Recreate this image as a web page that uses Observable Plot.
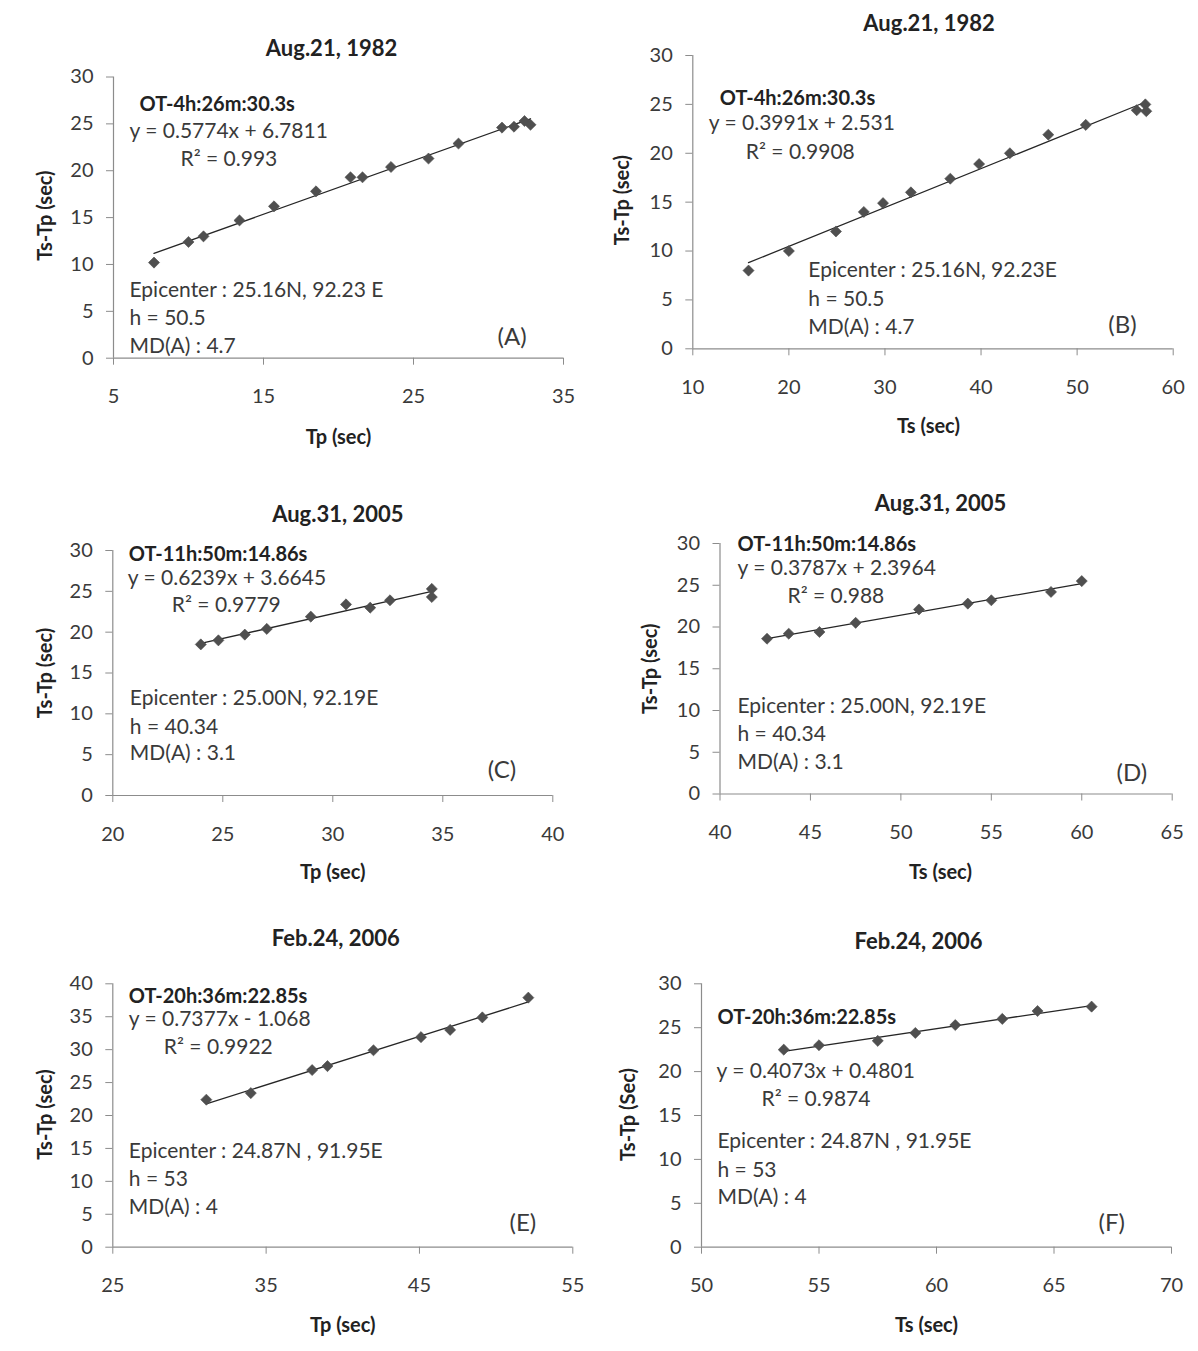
<!DOCTYPE html>
<html>
<head>
<meta charset="utf-8">
<script src="https://cdn.jsdelivr.net/npm/d3@7"></script>
<script src="https://cdn.jsdelivr.net/npm/@observablehq/plot@0.6"></script>
<style>
  body { margin: 0; background: #fff; }
  #wrap { position: relative; width: 1198px; height: 1351px; background: #fff; overflow: hidden; }
  #wrap svg { position: absolute; }
</style>
</head>
<body>
<div id="wrap"></div>
<script>
// ---------- data ----------
// Panel A: Aug.21, 1982, Tp vs Ts-Tp
const aTp = [7.7, 10.0, 11.0, 13.4, 15.7, 18.5, 20.8, 21.6, 23.5, 26.0, 28.0, 30.9, 31.7, 32.4, 32.8];
const aDt = [10.2, 12.4, 13.0, 14.7, 16.2, 17.8, 19.3, 19.3, 20.4, 21.3, 22.9, 24.6, 24.7, 25.3, 24.9];
// Panel B: Aug.21, 1982, Ts vs Ts-Tp
const bTs = [15.8, 20.0, 24.9, 27.8, 29.8, 32.7, 36.8, 39.8, 43.0, 47.0, 50.9, 56.2, 57.1, 57.2];
const bDt = [8.0, 10.0, 12.0, 14.0, 14.9, 16.0, 17.4, 18.9, 20.0, 21.9, 22.9, 24.4, 25.0, 24.3];
// Panel C: Aug.31, 2005, Tp vs Ts-Tp
const cTp = [24.0, 24.8, 26.0, 27.0, 29.0, 30.6, 31.7, 32.6, 34.5, 34.5];
const cDt = [18.5, 19.0, 19.7, 20.4, 21.9, 23.4, 23.0, 23.9, 25.3, 24.3];
// Panel D: Aug.31, 2005, Ts vs Ts-Tp
const dTs = [42.6, 43.8, 45.5, 47.5, 51.0, 53.7, 55.0, 58.3, 60.0];
const dDt = [18.6, 19.2, 19.4, 20.5, 22.1, 22.8, 23.2, 24.2, 25.5];
// Panel E: Feb.24, 2006, Tp vs Ts-Tp
const eTp = [31.1, 34.0, 38.0, 39.0, 42.0, 45.1, 47.0, 49.1, 52.1];
const eDt = [22.4, 23.4, 26.9, 27.5, 29.9, 31.9, 33.0, 34.9, 37.9];
// Panel F: Feb.24, 2006, Ts vs Ts-Tp
const fTs = [53.5, 55.0, 57.5, 59.1, 60.8, 62.8, 64.3, 66.6];
const fDt = [22.5, 23.0, 23.5, 24.4, 25.3, 26.0, 26.9, 27.4];

// tick values
const aXTicks = [5, 15, 25, 35];
const bXTicks = [10, 20, 30, 40, 50, 60];
const cXTicks = [20, 25, 30, 35, 40];
const dXTicks = [40, 45, 50, 55, 60, 65];
const eXTicks = [25, 35, 45, 55];
const fXTicks = [50, 55, 60, 65, 70];
const yTicks30 = [0, 5, 10, 15, 20, 25, 30];
const yTicks40 = [0, 5, 10, 15, 20, 25, 30, 35, 40];

// texts
const titles = ["Aug.21, 1982", "Aug.21, 1982", "Aug.31, 2005", "Aug.31, 2005", "Feb.24, 2006", "Feb.24, 2006"];
const xLabels = ["Tp (sec)", "Ts (sec)", "Tp (sec)", "Ts (sec)", "Tp (sec)", "Ts (sec)"];
const yLabels = ["Ts-Tp (sec)", "Ts-Tp (sec)", "Ts-Tp (sec)", "Ts-Tp (sec)", "Ts-Tp (sec)", "Ts-Tp (Sec)"];
const originTimes = ["OT-4h:26m:30.3s", "OT-4h:26m:30.3s", "OT-11h:50m:14.86s", "OT-11h:50m:14.86s", "OT-20h:36m:22.85s", "OT-20h:36m:22.85s"];
const equations = ["y = 0.5774x + 6.7811", "y = 0.3991x + 2.531", "y = 0.6239x + 3.6645", "y = 0.3787x + 2.3964", "y = 0.7377x - 1.068", "y = 0.4073x + 0.4801"];
const rSquared = ["R\u00b2 = 0.993", "R\u00b2 = 0.9908", "R\u00b2 = 0.9779", "R\u00b2 = 0.988", "R\u00b2 = 0.9922", "R\u00b2 = 0.9874"];
const epicenters = ["Epicenter : 25.16N, 92.23 E", "Epicenter : 25.16N, 92.23E", "Epicenter : 25.00N, 92.19E", "Epicenter : 25.00N, 92.19E", "Epicenter : 24.87N , 91.95E", "Epicenter : 24.87N , 91.95E"];
const depths = ["h = 50.5", "h = 50.5", "h = 40.34", "h = 40.34", "h = 53", "h = 53"];
const magnitudes = ["MD(A) : 4.7", "MD(A) : 4.7", "MD(A) : 3.1", "MD(A) : 3.1", "MD(A) : 4", "MD(A) : 4"];
const panelTags = ["(A)", "(B)", "(C)", "(D)", "(E)", "(F)"];

// ---------- layout (pixels) ----------
const layout = [
  {left: 0,   top: 0,   w: 599, h: 460, ml: 113,   mr: 36,   mt: 76.5, mb: 102.3,
   title: [-7, -28.5], xl: [0, 79], yl: [-68, -2],
   ot: [26, 28], eq: [16, 54.5], r2: [67, 82], ep: [16, 213], hh: [16, 241.5], md: [16, 269], tag: [384, 260]},
  {left: 599, top: 0,   w: 599, h: 460, ml: 93.3,  mr: 25.3, mt: 55,   mb: 111.7,
   title: [-4, -32], xl: [-4.5, 78], yl: [-70, -2],
   ot: [27, 43], eq: [16, 68], r2: [53, 97], ep: [115.5, 215], hh: [115.5, 244], md: [115.5, 272], tag: [415.5, 270]},
  {left: 0,   top: 460, w: 599, h: 460, ml: 112.3, mr: 46.7, mt: 90,   mb: 125,
   title: [5, -36], xl: [0, 77], yl: [-67, 0],
   ot: [16, 4], eq: [15, 27.7], r2: [59, 55], ep: [17, 148], hh: [17, 177], md: [17, 203], tag: [375, 220]},
  {left: 599, top: 460, w: 599, h: 460, ml: 120.5, mr: 26.3, mt: 83,   mb: 126.5,
   title: [-5.6, -40], xl: [-5.6, 78.5], yl: [-69.5, 0],
   ot: [17.5, 1], eq: [17.5, 24.7], r2: [67.5, 52.7], ep: [17.5, 163], hh: [17.5, 191], md: [17.5, 218.7], tag: [396.5, 229.7]},
  {left: 0,   top: 920, w: 599, h: 431, ml: 112.3, mr: 26.7, mt: 63.3, mb: 104.3,
   title: [-7, -45], xl: [0, 78.3], yl: [-67, -1],
   ot: [16, 12.7], eq: [16, 35], r2: [51, 63.4], ep: [16, 167.7], hh: [16, 195.7], md: [16, 223.4], tag: [396.7, 239.7]},
  {left: 599, top: 920, w: 599, h: 431, ml: 102,   mr: 27,   mt: 63.3, mb: 104.3,
   title: [-18, -42], xl: [-10, 78.3], yl: [-73, -1],
   ot: [16, 33.4], eq: [15, 87.4], r2: [60, 115.7], ep: [16, 157.7], hh: [16, 186], md: [16, 213.4], tag: [397, 239.7]}
];

const series = [
  [aTp, aDt, aXTicks, yTicks30],
  [bTs, bDt, bXTicks, yTicks30],
  [cTp, cDt, cXTicks, yTicks30],
  [dTs, dDt, dXTicks, yTicks30],
  [eTp, eDt, eXTicks, yTicks40],
  [fTs, fDt, fXTicks, yTicks30]
];

const FONT = "Lato, 'Open Sans', sans-serif";
const AXIS = "#8c8c8c";
const INK = "#3a3a3a";

function note(str, pos, opts = {}) {
  return Plot.text([str], {
    text: d => d, frameAnchor: "top-left", textAnchor: "start", lineAnchor: "middle",
    dx: pos[0], dy: pos[1], fontSize: 21, fill: INK, ...opts
  });
}

function panel(i) {
  const [xs, ys, xTicks, yTicks] = series[i];
  const L = layout[i];
  const data = xs.map((x, k) => ({x, y: ys[k]}));
  const svg = Plot.plot({
    width: L.w, height: L.h,
    marginLeft: L.ml, marginRight: L.mr, marginTop: L.mt, marginBottom: L.mb,
    style: {fontFamily: FONT, fontSize: "20px", color: INK, background: "transparent", overflow: "visible"},
    x: {domain: [xTicks[0], xTicks[xTicks.length - 1]]},
    y: {domain: [yTicks[0], yTicks[yTicks.length - 1]]},
    marks: [
      Plot.ruleY([yTicks[0]], {stroke: AXIS, strokeWidth: 1.2}),
      Plot.ruleX([xTicks[0]], {stroke: AXIS, strokeWidth: 1.2}),
      Plot.axisX({ticks: xTicks, tickSize: 7, tickPadding: 24, stroke: AXIS, fill: INK, label: null, fontSize: 20}),
      Plot.axisY({ticks: yTicks, tickSize: 7, tickPadding: 13, stroke: AXIS, fill: INK, label: null, fontSize: 20}),
      Plot.linearRegressionY(data, {x: "x", y: "y", ci: 0, stroke: "#262626", strokeWidth: 1.3}),
      Plot.dot(data, {x: "x", y: "y", symbol: "diamond2", r: 5, fill: "#4f4f4f", stroke: "#4f4f4f", strokeWidth: 0.6}),
      Plot.text([titles[i]], {text: d => d, frameAnchor: "top", textAnchor: "middle", lineAnchor: "middle", dx: L.title[0], dy: L.title[1], fontWeight: "bold", fontSize: 22, fill: "#222"}),
      Plot.text([xLabels[i]], {text: d => d, frameAnchor: "bottom", textAnchor: "middle", lineAnchor: "middle", dx: L.xl[0], dy: L.xl[1], fontWeight: "bold", fontSize: 20, fill: "#222"}),
      Plot.text([yLabels[i]], {text: d => d, frameAnchor: "left", textAnchor: "middle", lineAnchor: "middle", rotate: -90, dx: L.yl[0], dy: L.yl[1], fontWeight: "bold", fontSize: 20, fill: "#222"}),
      note(originTimes[i], L.ot, {fontWeight: "bold", fill: "#222", fontSize: 20}),
      note(equations[i], L.eq),
      note(rSquared[i], L.r2),
      note(epicenters[i], L.ep),
      note(depths[i], L.hh),
      note(magnitudes[i], L.md),
      note(panelTags[i], L.tag, {fontSize: 24})
    ]
  });
  svg.style.left = L.left + "px";
  svg.style.top = L.top + "px";
  return svg;
}

const wrap = document.getElementById("wrap");
for (let i = 0; i < 6; i++) wrap.appendChild(panel(i));
</script>
</body>
</html>
